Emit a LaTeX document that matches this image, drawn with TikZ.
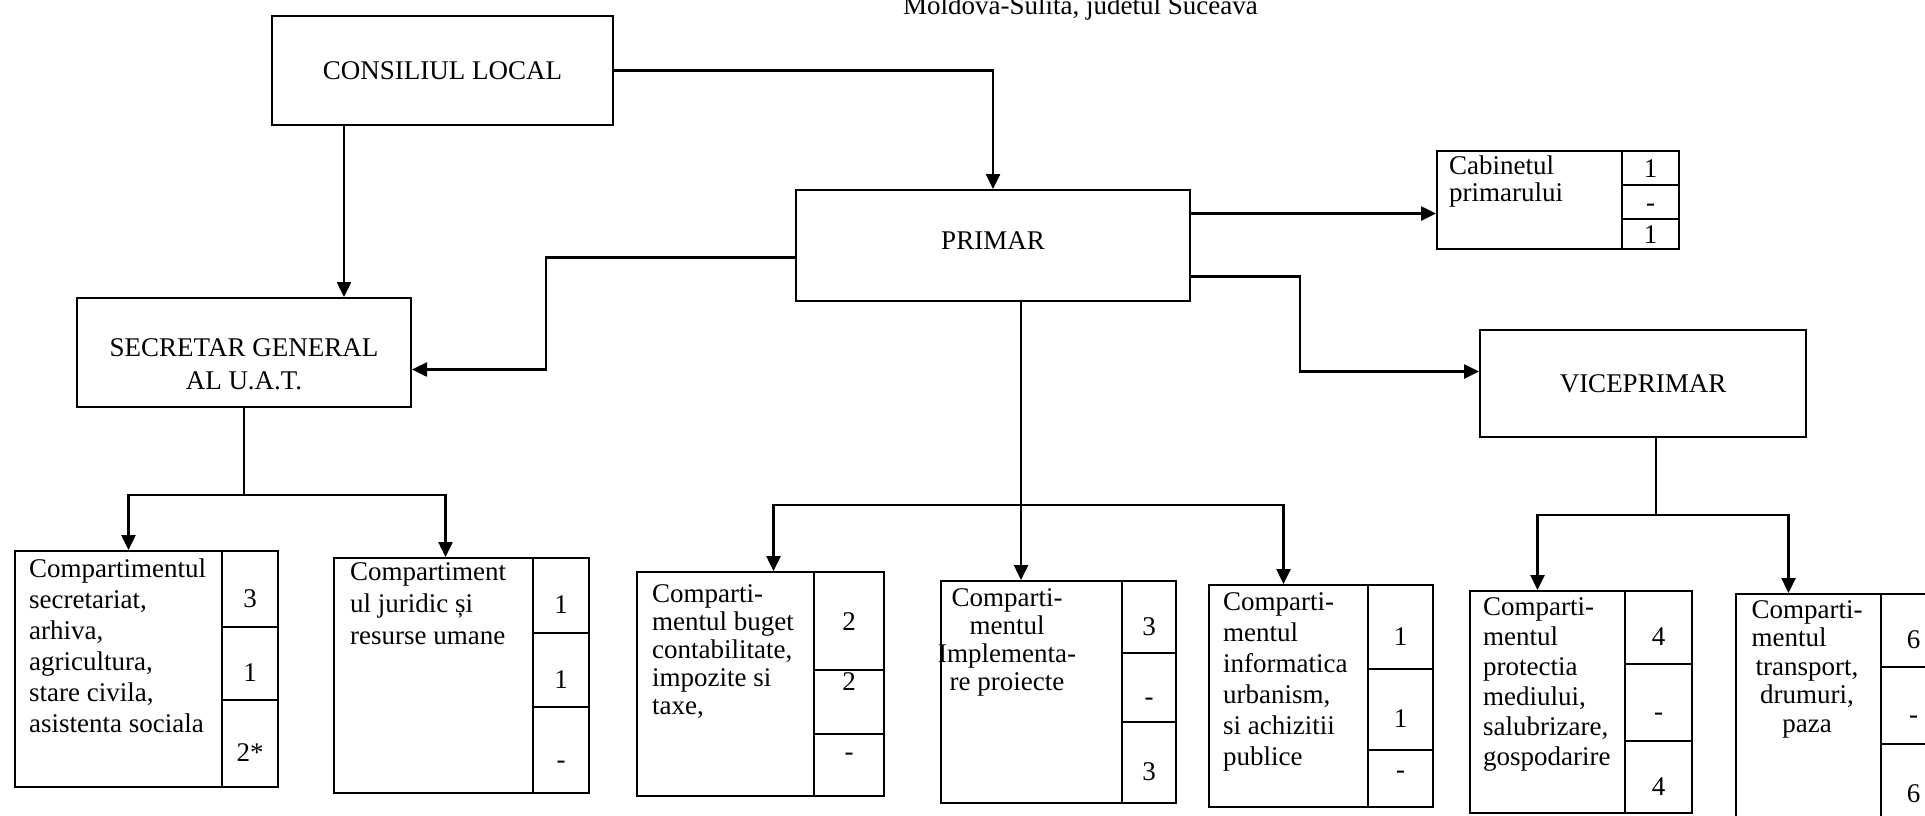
\documentclass[tikz,border=0pt]{standalone}
\usepackage{fontspec}
\setmainfont{Liberation Serif}
\usepackage{tikz}
\usetikzlibrary{arrows.meta}

\begin{document}
\begin{tikzpicture}[x=1pt, y=-1pt, >={Triangle[length=15pt, width=14pt]},
    box/.style={draw, line width=2pt, anchor=north west, inner sep=0pt, align=center, font=\fontsize{27}{33}\selectfont},
    cell/.style={draw, line width=2pt, anchor=north west, inner sep=0pt},
    numcell/.style={cell, text height=#1, text depth=0pt, font=\fontsize{27}{30}\selectfont},
    numcell/.default=36pt,
    names/.style={inner sep=0pt, anchor=north west, align=left, font=\fontsize{27}{#1}\selectfont},
    wire/.style={line width=2.5pt},
    conn/.style={wire, ->}]

    \clip (0,0) rectangle (1925,815);

    % Title (cut at the top of the page)
    \node[anchor=base west, inner sep=0pt, font=\fontsize{27}{30}\selectfont] (title) at (903,14) {Moldova-Sulita, judetul Suceava};

    % Top level
    \node[box, minimum width=341pt, minimum height=109pt] (consiliu) at (271,15) {CONSILIUL LOCAL};
    \node[box, minimum width=394pt, minimum height=111pt] (primar) at (795,189) {PRIMAR\rule[-10pt]{0pt}{10pt}};
    \node[box, minimum width=334pt, minimum height=109pt] (secretar) at (76,297) {\rule{0pt}{41pt}SECRETAR GENERAL\\AL U.A.T.};
    \node[box, minimum width=326pt, minimum height=107pt] (viceprimar) at (1479,329) {VICEPRIMAR};

    % Cabinetul primarului
    \node[cell, minimum width=185pt, minimum height=98pt] (cabinet) at (1436,150) {};
    \node[names=27] (cabinetText) at (1449,156) {Cabinetul\\primarului};
    \node[numcell=18pt, minimum width=57pt, minimum height=34pt] (cabinet1) at (1621,150) {1};
    \node[numcell=18pt, minimum width=57pt, minimum height=34pt] (cabinet2) at (1621,184) {-};
    \node[numcell=18pt, minimum width=57pt, minimum height=30pt] (cabinet3) at (1621,218) {1};

    % Secretariat
    \node[cell, minimum width=207pt, minimum height=236pt] (secretariat) at (14,550) {};
    \node[names=31] (secretariatText) at (29,559) {Compartimentul\\secretariat,\\arhiva,\\agricultura,\\stare civila,\\asistenta sociala};
    \node[numcell, minimum width=56pt, minimum height=76pt] (secretariat1) at (221,550) {3};
    \node[numcell, minimum width=56pt, minimum height=73pt] (secretariat2) at (221,626) {1};
    \node[numcell, minimum width=56pt, minimum height=87pt] (secretariat3) at (221,699) {2*};

    % Juridic
    \node[cell, minimum width=199pt, minimum height=235pt] (juridic) at (333,557) {};
    \node[names=32] (juridicText) at (350,562) {Compartiment\\ul juridic și\\resurse umane};
    \node[numcell, minimum width=56pt, minimum height=75pt] (juridic1) at (532,557) {1};
    \node[numcell, minimum width=56pt, minimum height=74pt] (juridic2) at (532,632) {1};
    \node[numcell, minimum width=56pt, minimum height=86pt] (juridic3) at (532,706) {-};

    % Buget
    \node[cell, minimum width=177pt, minimum height=224pt] (buget) at (636,571) {};
    \node[names=28] (bugetText) at (652,584) {Comparti-\\mentul buget\\contabilitate,\\impozite si\\taxe,};
    \node[numcell=18pt, minimum width=70pt, minimum height=98pt] (buget1) at (813,571) {2};
    \node[numcell=0pt, text depth=24pt, minimum width=70pt, minimum height=64pt] (buget2) at (813,669) {2};
    \node[numcell=0pt, text depth=10pt, minimum width=70pt, minimum height=62pt] (buget3) at (813,733) {-};

    % Implementare proiecte
    \node[cell, minimum width=181pt, minimum height=222pt] (implementare) at (940,580) {};
    \node[names=28, anchor=north, align=center] (implementareText) at (1007,588) {Comparti-\\mentul\\Implementa-\\re proiecte};
    \node[numcell, minimum width=54pt, minimum height=72pt] (implementare1) at (1121,580) {3};
    \node[numcell, minimum width=54pt, minimum height=69pt] (implementare2) at (1121,652) {-};
    \node[numcell, minimum width=54pt, minimum height=81pt] (implementare3) at (1121,721) {3};

    % Informatica
    \node[cell, minimum width=159pt, minimum height=222pt] (informatica) at (1208,584) {};
    \node[names=31] (informaticaText) at (1223,592) {Comparti-\\mentul\\informatica\\urbanism,\\si achizitii\\publice};
    \node[numcell, minimum width=65pt, minimum height=84pt] (informatica1) at (1367,584) {1};
    \node[numcell, minimum width=65pt, minimum height=81pt] (informatica2) at (1367,668) {1};
    \node[numcell=0pt, minimum width=65pt, minimum height=57pt] (informatica3) at (1367,749) {-};

    % Protectia mediului
    \node[cell, minimum width=155pt, minimum height=222pt] (protectia) at (1469,590) {};
    \node[names=30] (protectiaText) at (1483,597) {Comparti-\\mentul\\protectia\\mediului,\\salubrizare,\\gospodarire};
    \node[numcell, minimum width=67pt, minimum height=73pt] (protectia1) at (1624,590) {4};
    \node[numcell, minimum width=67pt, minimum height=77pt] (protectia2) at (1624,663) {-};
    \node[numcell, minimum width=67pt, minimum height=72pt] (protectia3) at (1624,740) {4};

    % Transport (runs off the page)
    \node[cell, minimum width=145pt, minimum height=235pt] (transport) at (1735,593) {};
    \node[names=28.5, anchor=north, align=center] (transportText) at (1807,600) {Comparti-\\\makebox[111pt][l]{mentul}\\transport,\\drumuri,\\paza};
    \node[numcell, minimum width=65pt, minimum height=73pt] (transport1) at (1880,593) {6};
    \node[numcell, minimum width=65pt, minimum height=77pt] (transport2) at (1880,666) {-};
    \node[numcell, minimum width=65pt, minimum height=80pt] (transport3) at (1880,743) {6};

    % Consiliul local
    \coordinate (cl) at (344,0);
    \draw[conn] (consiliu.south -| cl) -- (secretar.north -| cl);
    \draw[conn] (consiliu.east) -| (primar.north);

    % Primar
    \coordinate (pc) at ([yshift=32pt]primar.east);
    \draw[conn] (pc) -- (pc -| cabinet.west);
    \draw[conn] ([yshift=-12pt]primar.west) -- ++(-249,0) |- ([yshift=-17pt]secretar.east);
    \draw[conn] ([yshift=-31pt]primar.east) -- ++(109,0) |- ([yshift=12pt]viceprimar.west);

    % Secretar -> compartimente
    \coordinate (sbus) at ([yshift=-87pt]secretar.south);
    \draw[wire] (secretar.south) -- (sbus);
    \draw[conn] (sbus) -| ([xshift=10pt]secretariat.north);
    \draw[conn] (sbus) -| ([xshift=12pt]juridic.north);

    % Primar -> compartimente
    \coordinate (pbus) at ([xshift=28pt, yshift=-203pt]primar.south);
    \draw[wire] ([xshift=28pt]primar.south) -- (pbus);
    \draw[conn] (pbus) -| ([xshift=48pt]buget.north);
    \draw[conn] (pbus) -- (pbus |- implementare.north);
    \draw[conn] (pbus) -| ([xshift=-5pt]informatica.north);

    % Viceprimar -> compartimente
    \coordinate (vbus) at ([xshift=13pt, yshift=-77pt]viceprimar.south);
    \draw[wire] ([xshift=13pt]viceprimar.south) -- (vbus);
    \draw[conn] (vbus) -| ([xshift=-10pt]protectia.north);
    \draw[conn] (vbus) -| ([xshift=-20pt]transport.north);

\end{tikzpicture}
\end{document}
